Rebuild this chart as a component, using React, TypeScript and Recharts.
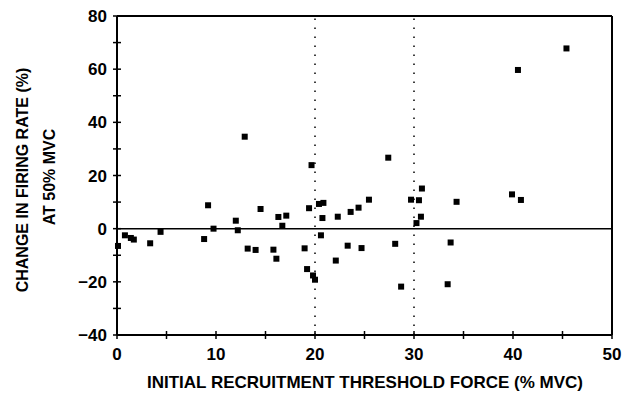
import React from 'react';
import {
  ScatterChart,
  Scatter,
  XAxis,
  YAxis,
  ReferenceLine,
} from 'recharts';

const thresholdForce = [
  0.1, 0.8, 1.4, 1.7, 3.35, 4.4, 8.8, 9.2, 9.75, 12.0, 12.2, 12.9, 13.2, 14.0,
  14.5, 15.8, 16.1, 16.3, 16.7, 17.1, 18.95, 19.2, 19.4, 19.65, 19.8, 20.0,
  20.4, 20.6, 20.75, 20.85, 22.1, 22.3, 23.3, 23.6, 24.4, 24.7, 25.45, 27.4,
  28.1, 28.7, 29.7, 30.25, 30.5, 30.7, 30.8, 33.4, 33.7, 34.3, 39.9, 40.5,
  40.8, 45.4,
];

const rateChange = [
  -6.5, -2.5, -3.5, -4.1, -5.5, -1.2, -3.9, 8.8, 0, 3.0, -0.6, 34.6, -7.5, -8.0,
  7.4, -7.9, -11.3, 4.4, 1.1, 4.9, -7.4, -15.2, 7.7, 23.9, -17.6, -19.2,
  9.3, -2.5, 4.0, 9.7, -12.0, 4.5, -6.4, 6.3, 7.9, -7.3, 10.9, 26.7,
  -5.7, -21.8, 10.9, 2.1, 10.7, 4.5, 15.1, -20.9, -5.2, 10.1, 12.9, 59.7,
  10.8, 67.8,
];

const xTicks = [0, 5, 10, 15, 20, 25, 30, 35, 40, 45, 50];
const yTicks = [-40, -30, -20, -10, 0, 10, 20, 30, 40, 50, 60, 70, 80];

const points = thresholdForce.map((x, i) => ({ x, y: rateChange[i] }));

const FONT = '"Liberation Sans", Arial, sans-serif';

function YTick(props: any) {
  const { x, y, payload } = props;
  const ax = x + 8;
  const v = payload.value;
  return (
    <g>
      <line x1={ax - 4} x2={ax + 4} y1={y} y2={y} stroke="#000" strokeWidth={1.5} />
      {v % 20 === 0 && (
        <text x={ax - 10} y={y} dy={6} textAnchor="end" fontFamily={FONT} fontWeight="bold" fontSize={17} fill="#000">
          {v < 0 ? '\u2212' + Math.abs(v) : v}
        </text>
      )}
    </g>
  );
}

function XTick(props: any) {
  const { x, y, payload } = props;
  const ay = y - 8;
  const v = payload.value;
  return (
    <g>
      <line x1={x} x2={x} y1={ay - 4} y2={ay + 4} stroke="#000" strokeWidth={1.5} />
      {v % 10 === 0 && (
        <text x={x} y={ay + 25} textAnchor="middle" fontFamily={FONT} fontWeight="bold" fontSize={17} fill="#000">
          {v}
        </text>
      )}
    </g>
  );
}

const Square = (props: any) => {
  const { cx, cy } = props;
  return <rect x={cx - 3} y={cy - 3} width={6} height={6} fill="#000" />;
};

export default function App() {
  return (
    <div style={{ position: 'absolute', left: 0, top: 0, width: 623, height: 397, background: '#fff' }}>
      <ScatterChart width={623} height={397} margin={{ top: 16, right: 11, bottom: 0, left: 0 }}>
        <XAxis
          type="number"
          dataKey="x"
          domain={[0, 50]}
          ticks={xTicks}
          interval={0}
          tickSize={4}
          tickMargin={4}
          tickLine={false}
          tick={<XTick />}
          axisLine={{ stroke: '#000', strokeWidth: 2 }}
          height={62}
        />
        <YAxis
          type="number"
          dataKey="y"
          domain={[-40, 80]}
          ticks={yTicks}
          interval={0}
          tickSize={4}
          tickMargin={4}
          tickLine={false}
          tick={<YTick />}
          axisLine={{ stroke: '#000', strokeWidth: 2 }}
          width={117}
        />
        <ReferenceLine y={80} stroke="#000" strokeWidth={2} />
        <ReferenceLine x={50} stroke="#000" strokeWidth={2} />
        <ReferenceLine y={0} stroke="#000" strokeWidth={1.5} />
        <ReferenceLine x={20} stroke="#000" strokeWidth={1.5} strokeDasharray="1.5 7.5" />
        <ReferenceLine x={30} stroke="#000" strokeWidth={1.5} strokeDasharray="1.5 7.5" />
        <Scatter data={points} shape={<Square />} isAnimationActive={false} />
      </ScatterChart>
      <svg width={623} height={397} style={{ position: 'absolute', left: 0, top: 0, pointerEvents: 'none' }}>
        <text
          x={0}
          y={0}
          transform="translate(28,180) rotate(-90)"
          textAnchor="middle"
          fontFamily={FONT}
          fontWeight="bold"
          fontSize={16}
          fill="#000"
        >
          CHANGE IN FIRING RATE (%)
        </text>
        <text
          x={0}
          y={0}
          transform="translate(55,177) rotate(-90)"
          textAnchor="middle"
          fontFamily={FONT}
          fontWeight="bold"
          fontSize={16}
          fill="#000"
        >
          AT 50% MVC
        </text>
        <text x={365} y={388} textAnchor="middle" fontFamily={FONT} fontWeight="bold" fontSize={17} fill="#000">
          INITIAL RECRUITMENT THRESHOLD FORCE (% MVC)
        </text>
      </svg>
    </div>
  );
}
